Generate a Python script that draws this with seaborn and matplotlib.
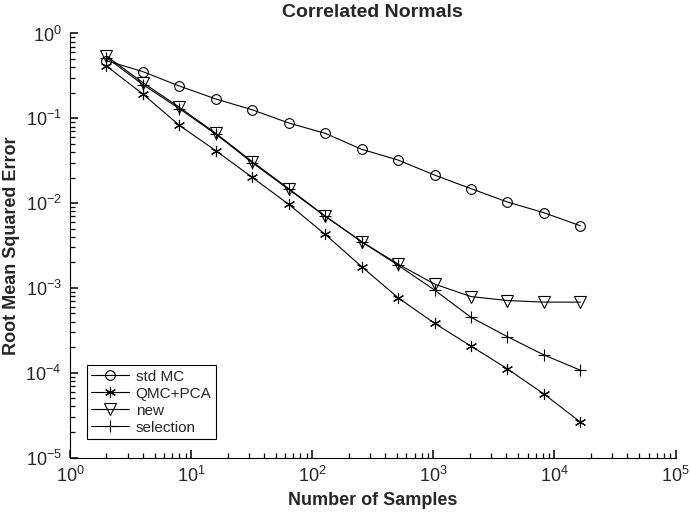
import numpy as np
import pandas as pd
import matplotlib
matplotlib.use("Agg")
import matplotlib.pyplot as plt
import matplotlib.ticker as ticker
import seaborn as sns

# === DANE ===
n_samples = [2, 4, 8, 16, 32, 64, 128, 256, 512, 1024, 2048, 4096, 8192, 16384]
std_mc = [0.478, 0.355, 0.240, 0.169, 0.126, 0.088, 0.0665, 0.0431, 0.0322,
          0.0214, 0.0148, 0.0103, 0.0077, 0.0054]
qmc_pca = [0.414, 0.193, 0.0826, 0.0415, 0.0201, 0.00968, 0.00428, 0.00178,
           7.66e-4, 3.82e-4, 2.06e-4, 1.11e-4, 5.61e-5, 2.62e-5]
new = [0.543, 0.263, 0.135, 0.0665, 0.0308, 0.0148, 0.00704, 0.00351,
       0.00191, 0.00111, 7.9e-4, 7.1e-4, 6.8e-4, 6.8e-4]
selection = [0.52, 0.25, 0.13, 0.065, 0.030, 0.0145, 0.0070, 0.0035,
             0.00185, 9.44e-4, 4.5e-4, 2.66e-4, 1.62e-4, 1.07e-4]

series = {
    "std MC": std_mc,
    "QMC+PCA": qmc_pca,
    "new": new,
    "selection": selection,
}
markers = {
    "std MC": dict(marker="o", markersize=7),
    "QMC+PCA": dict(marker=(6, 2, 0), markersize=8),
    "new": dict(marker="v", markersize=8),
    "selection": dict(marker="+", markersize=9),
}

df = pd.concat(
    [pd.DataFrame({"n": n_samples, "rmse": vals, "method": name}) for name, vals in series.items()],
    ignore_index=True,
)

# === STYL ===
sns.set_style("ticks")
plt.rcParams["font.family"] = ["Liberation Sans", "DejaVu Sans"]
plt.rcParams["mathtext.fontset"] = "custom"
plt.rcParams["mathtext.rm"] = "Liberation Sans"
plt.rcParams["mathtext.it"] = "Liberation Sans"

fig = plt.figure(figsize=(6.9, 5.12), dpi=100)
ax = fig.add_axes([0.1014, 0.1064, 0.8776, 0.8282])
ax.set_xscale("log")
ax.set_yscale("log")

for name in series:
    sub = df[df["method"] == name]
    sns.lineplot(data=sub, x="n", y="rmse", ax=ax, color="black", linewidth=0.8,
                 markerfacecolor="none", markeredgecolor="black", markeredgewidth=0.8,
                 label=name, **markers[name])

ax.set_xlim(1, 1e5)
ax.set_ylim(1e-5, 1)

# ticki do środka, jak w MATLAB-ie
ax.tick_params(axis="both", which="major", direction="in", length=6, width=1.1,
               color="black", labelsize=13, pad=6)
ax.tick_params(axis="both", which="minor", direction="in", length=3.5, width=0.9,
               color="black")

for side in ["top", "right"]:
    ax.spines[side].set_visible(False)
for side in ["left", "bottom"]:
    ax.spines[side].set_color("black")

ax.set_title("Correlated Normals", fontsize=14, fontweight="bold", pad=12)
ax.set_xlabel("Number of Samples", fontsize=13, fontweight="bold", labelpad=4)
ax.set_ylabel("Root Mean Squared Error", fontsize=13, fontweight="bold", labelpad=4)

leg = ax.legend(loc="lower left", bbox_to_anchor=(0.015, 0.025), fontsize=11,
                frameon=True, fancybox=False, edgecolor="black", framealpha=1,
                handlelength=2.5, borderpad=0.3, labelspacing=0.2, handletextpad=0.4)
leg.get_frame().set_linewidth(0.8)

fig.savefig("out.png", dpi=100)
